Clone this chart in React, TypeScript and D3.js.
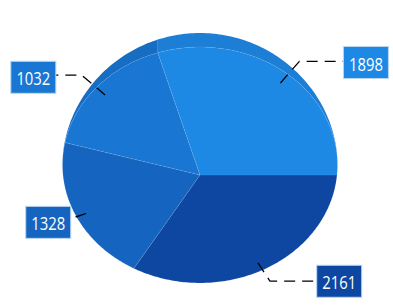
import React from 'react';
import * as d3 from 'd3';

// Data (clockwise from 3 o'clock)
const values: number[] = [2161, 1328, 1032, 1898];
const labels: string[] = ['2161', '1328', '1032', '1898'];
const colors: string[] = ['#0D47A1', '#1565C0', '#1976D2', '#1E88E5'];

// Label layout (connector elbow radius, horizontal gap to box, vertical nudge)
const elbowRadius: number[] = [1.126, 1.0, 1.133, 1.12];
const boxGap: number[] = [46.8, 5.7, 25.7, 44];
const boxNudge: number[] = [0.2, 5.6, 2.2, 1.2];

const W = 393;
const H = 307;
const CX = 200;
const CY = 175;
const RX = 137;
const RY = 117.1;
const K = 0.0847; // perspective factor
const DEPTH = 14;
const BOX_W = 45;
const BOX_H = 32;

function project(a: number, r: number): [number, number] {
  const u = Math.sin(a);
  const v = -Math.cos(a);
  const den = 1 + K * r * v;
  return [CX + (RX * r * u) / den, CY + (RY * r * v) / den];
}

function angles(a0: number, a1: number): number[] {
  const n = Math.max(2, Math.ceil(((a1 - a0) / (2 * Math.PI)) * 360));
  const out: number[] = [];
  for (let i = 0; i <= n; i++) out.push(a0 + ((a1 - a0) * i) / n);
  return out;
}

export default function App() {
  const pie = d3
    .pie<number>()
    .sort(null)
    .startAngle(Math.PI / 2)
    .endAngle(Math.PI / 2 + 2 * Math.PI);
  const arcs = pie(values);
  const line = d3.line<[number, number]>();

  return (
    <svg
      width={W}
      height={H}
      style={{ position: 'absolute', left: 0, top: 0, background: '#fff' }}
    >
      {/* side walls (visible only at the back) */}
      {arcs.map((d, i) => {
        const as = angles(d.startAngle, d.endAngle);
        const rim = as.map((a) => project(a, 1));
        const shifted = as
          .map((a) => {
            const v = -Math.cos(a);
            const dep = DEPTH * Math.pow(Math.max(0, -v), 1.5);
            const p = project(a, 1);
            return [p[0], p[1] - dep] as [number, number];
          })
          .reverse();
        const c = d3.color(colors[i])!.darker(0.22).toString();
        return <path key={'w' + i} d={line(rim.concat(shifted)) + 'Z'} fill={c} />;
      })}
      {/* faces */}
      {arcs.map((d, i) => {
        const rim = angles(d.startAngle, d.endAngle).map((a) => project(a, 1));
        const pts: [number, number][] = [[CX, CY], ...rim];
        return (
          <path
            key={'f' + i}
            d={line(pts) + 'Z'}
            fill={colors[i]}
            stroke="rgba(255,255,255,0.12)"
            strokeWidth={0.6}
          />
        );
      })}
      {/* connectors and labels */}
      {arcs.map((d, i) => {
        const mid = (d.startAngle + d.endAngle) / 2;
        const p0 = project(mid, 0.92);
        const p1 = project(mid, elbowRadius[i]);
        const right = Math.sin(mid) > 0;
        const bx = right ? p1[0] + boxGap[i] : p1[0] - boxGap[i] - BOX_W;
        const p2: [number, number] = [right ? bx : bx + BOX_W, p1[1]];
        const by = p1[1] + boxNudge[i] - BOX_H / 2;
        return (
          <g key={'l' + i}>
            <path
              d={line([p0, p1, p2]) ?? ''}
              fill="none"
              stroke="#000"
              strokeWidth={1.3}
              strokeDasharray="11,7"
            />
            <rect
              x={bx}
              y={by}
              width={BOX_W}
              height={BOX_H}
              fill={colors[i]}
              stroke="#b9d6f2"
              strokeWidth={1}
            />
            <text
              transform={`translate(${bx + BOX_W / 2},${by + BOX_H / 2 + 8}) scale(0.8,1)`}
              textAnchor="middle"
              fill="#fff"
              fontFamily="'Segoe UI', 'Open Sans', sans-serif"
              fontSize={18.5}
            >
              {labels[i]}
            </text>
          </g>
        );
      })}
    </svg>
  );
}
